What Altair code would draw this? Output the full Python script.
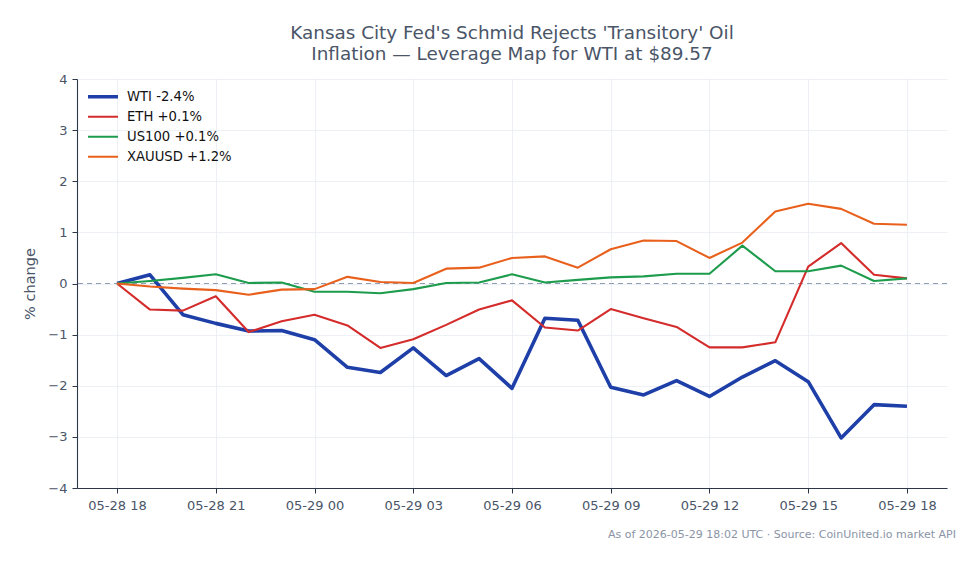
import altair as alt
import pandas as pd

# Hourly timestamps (UTC) for the 24h window
times = pd.date_range("2026-05-28 18:00", "2026-05-29 18:00", freq="h", tz="UTC")
time_strings = [t.strftime("%Y-%m-%dT%H:%M:%SZ") for t in times]

# % change since window start
wti = [0.00, 0.17, -0.61, -0.78, -0.93, -0.92, -1.10, -1.64, -1.74, -1.26, -1.80, -1.47,
       -2.05, -0.68, -0.72, -2.03, -2.18, -1.90, -2.21, -1.83, -1.51, -1.92, -3.02, -2.37, -2.40]
eth = [0.00, -0.51, -0.53, -0.25, -0.95, -0.74, -0.61, -0.82, -1.26, -1.09, -0.81, -0.51,
       -0.33, -0.86, -0.92, -0.50, -0.68, -0.85, -1.25, -1.25, -1.15, 0.33, 0.79, 0.17, 0.10]
us100 = [0.00, 0.05, 0.11, 0.18, 0.01, 0.02, -0.16, -0.16, -0.19, -0.11, 0.01, 0.02,
         0.18, 0.02, 0.07, 0.12, 0.14, 0.19, 0.19, 0.74, 0.24, 0.24, 0.35, 0.05, 0.10]
xauusd = [0.00, -0.06, -0.10, -0.13, -0.22, -0.12, -0.11, 0.13, 0.03, 0.01, 0.29, 0.31,
          0.50, 0.53, 0.31, 0.67, 0.84, 0.83, 0.50, 0.80, 1.41, 1.56, 1.46, 1.17, 1.15]

series_labels = ["WTI -2.4%", "ETH +0.1%", "US100 +0.1%", "XAUUSD +1.2%"]
series_values = [wti, eth, us100, xauusd]
series_colors = ["#1e3fa8", "#d42b2b", "#1c9c4c", "#e8601c"]
series_widths = [3.6, 2.1, 2.1, 2.1]

title_lines = ["Kansas City Fed's Schmid Rejects 'Transitory' Oil",
               "Inflation \u2014 Leverage Map for WTI at $89.57"]
footnote = "As of 2026-05-29 18:02 UTC \u00b7 Source: CoinUnited.io market API"

rows = []
for rank, (label, vals) in enumerate(zip(series_labels, series_values)):
    for t, v in zip(time_strings, vals):
        rows.append({"time": t, "series": label, "pct": v, "rank": rank})
df = pd.DataFrame(rows)

tick_values = [alt.DateTime(year=t.year, month=t.month, date=t.day, hours=t.hour, utc=True)
               for t in times[::3]]
x_domain = [alt.DateTime(year=2026, month=5, date=28, hours=16, minutes=47, utc=True),
            alt.DateTime(year=2026, month=5, date=29, hours=19, minutes=13, utc=True)]

text_color = "#4a5568"

x_enc = alt.X("time:T", scale=alt.Scale(type="utc", domain=x_domain),
              axis=alt.Axis(values=tick_values,
                            labelExpr="utcFormat(datum.value, '%m-%d %H')",
                            title=None, labelAngle=0))
y_enc = alt.Y("pct:Q", scale=alt.Scale(domain=[-4, 4], nice=False),
              axis=alt.Axis(values=list(range(-4, 5)), title="% change"))

lines = alt.Chart(df).mark_line(strokeJoin="round").encode(
    x=x_enc,
    y=y_enc,
    color=alt.Color("series:N", sort=series_labels,
                    scale=alt.Scale(domain=series_labels, range=series_colors),
                    legend=alt.Legend(title=None)),
    strokeWidth=alt.StrokeWidth("series:N", sort=series_labels,
                                scale=alt.Scale(type="ordinal", domain=series_labels,
                                                range=series_widths),
                                legend=alt.Legend(title=None)),
    order=alt.Order("rank:Q", sort="descending"),
)

zero = alt.Chart(pd.DataFrame({"z": [0]})).mark_rule(
    color="#8f9db3", strokeDash=[5, 4], strokeWidth=1.1
).encode(y="z:Q")

note = alt.Chart(pd.DataFrame({"t": [footnote]})).mark_text(
    align="right", baseline="alphabetic", fontSize=11, color="#8a94a6", font="DejaVu Sans"
).encode(text="t:N", x=alt.value(879), y=alt.value(459))

chart = alt.layer(zero, lines, note).properties(
    width=870,
    height=409,
    title=alt.TitleParams(text=title_lines, fontSize=18.4, font="DejaVu Sans",
                          fontWeight="normal", color=text_color, anchor="middle",
                          offset=10, lineHeight=21),
    padding={"left": 77, "top": 79, "right": 32, "bottom": 76},
    autosize=alt.AutoSizeParams(type="none"),
).configure_view(
    stroke=None
).configure_axis(
    labelFont="DejaVu Sans", titleFont="DejaVu Sans", labelFontSize=13, titleFontSize=14.5,
    labelColor=text_color, titleColor=text_color, titleFontWeight="normal",
    domainColor="#2d3748", domainWidth=1.1, tickColor="#2d3748", tickSize=5,
    gridColor="#e9ecf1", gridWidth=0.8, labelPadding=5,
).configure_axisY(
    titlePadding=10
).configure_axisX(
    labelPadding=6
).configure_legend(
    orient="none", legendX=9, legendY=8, symbolType="stroke", symbolSize=900,
    labelFont="DejaVu Sans", labelFontSize=13.2, labelColor="#111111", labelOffset=7,
    rowPadding=0, padding=0, symbolStrokeWidth=2, clipHeight=19.5,
)

chart.save("out.html", embed_options={"renderer": "svg", "actions": False})
